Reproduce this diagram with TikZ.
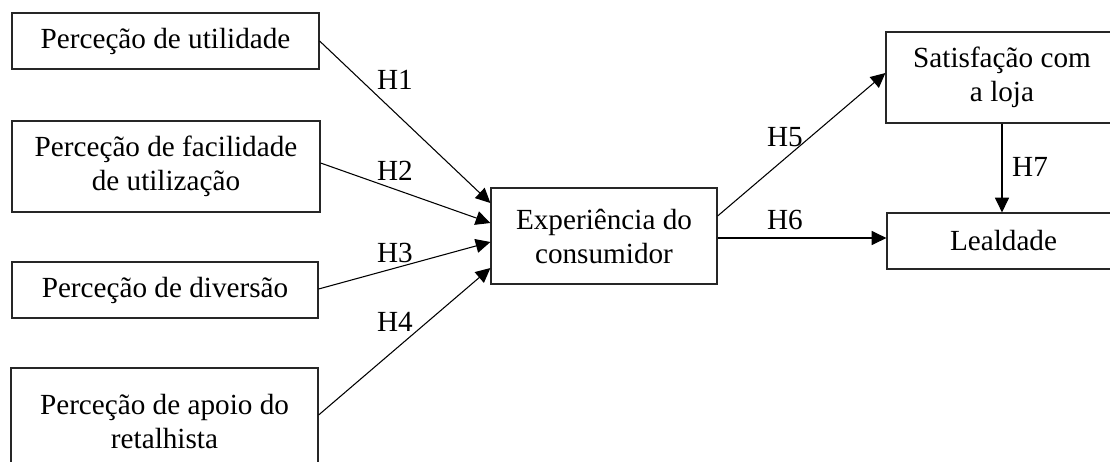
\documentclass[tikz,border=0pt]{standalone}
\usepackage{fontspec}
\setmainfont{Liberation Serif}
\usetikzlibrary{arrows.meta,calc}
\tikzset{
  box/.style={draw=black!85, line width=0.9pt, inner sep=0pt, align=center, font=\fontsize{21.9}{25.5}\selectfont},
  lbl/.style={inner sep=0pt, font=\fontsize{21.9}{25.5}\selectfont},
  arr/.style={draw, line width=0.8pt, -{Triangle[length=11pt,width=10.5pt]}}
}
\begin{document}
\begin{tikzpicture}[x=0.75pt,y=-0.75pt]
\useasboundingbox (0,0) rectangle (1110,461);
\node[box, minimum width=230.25pt, minimum height=42pt] (u) at (165.5,41) {Perceção de utilidade};
\node[box, minimum width=231pt, minimum height=68.25pt] (f) at (166,166.5) {Perceção de facilidade\\de utilização};
\node[box, minimum width=229.5pt, minimum height=42pt] (d) at (165,290) {Perceção de diversão};
\node[box, minimum width=230.25pt, minimum height=81pt] (a) at (164.5,422) {Perceção de apoio do\\retalhista};
\node[box, minimum width=169.5pt, minimum height=72pt] (e) at (604,236) {Experiência do\\consumidor};
\node[box, minimum width=174pt, minimum height=68.25pt] (s) at (1002,77.5) {Satisfação com\\a loja};
\node[box, minimum width=174.75pt, minimum height=42pt] (l) at (1003.5,241) {Lealdade};

\draw[arr] (u.east) -- ($(e.west)+(0,-33)$);
\draw[arr] ($(f.east)+(0,-3.5)$) -- ($(e.west)+(0,-13)$);
\draw[arr] ($(d.east)+(0,-1)$) -- ($(e.west)+(0,6)$);
\draw[arr] ($(a.east)+(0,-7)$) -- ($(e.west)+(0,32)$);
\draw[arr] ($(e.east)+(0,-20)$) -- ($(s.west)+(0,-4.5)$);
\coordinate (h6s) at ($(e.east)+(0,2)$);
\draw[arr] (h6s) -- (h6s -| l.west);
\draw[arr] (s.south) -- (s.south |- l.north);

\node[lbl] (h1) at (395,80) {H1};
\node[lbl] (h2) at (395,171) {H2};
\node[lbl] (h3) at (395,253) {H3};
\node[lbl] (h4) at (395,322) {H4};
\node[lbl] (h5) at (785,137) {H5};
\node[lbl] (h6) at (785,220) {H6};
\node[lbl] (h7) at (1030,167) {H7};
\end{tikzpicture}
\end{document}
